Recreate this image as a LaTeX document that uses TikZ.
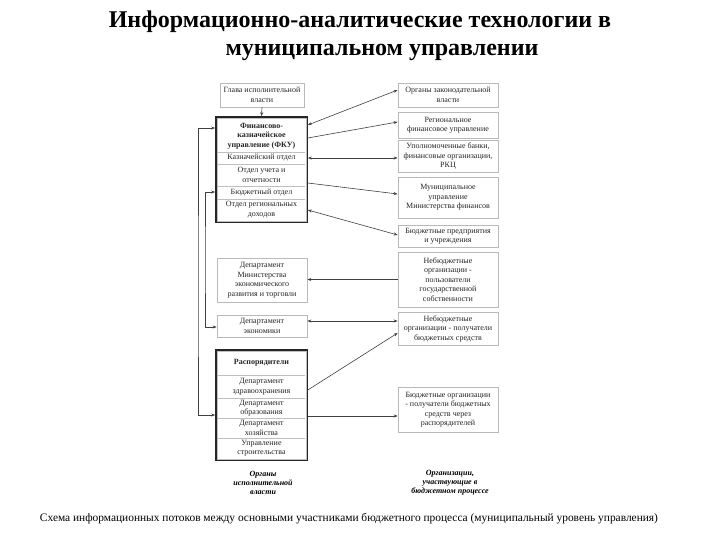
\documentclass[tikz,border=0pt]{standalone}
\usepackage{fontspec}
\setmainfont{Liberation Serif}[BoldFont={Liberation Serif Bold},ItalicFont={Liberation Serif Italic},BoldItalicFont={Liberation Serif Bold Italic}]
\usetikzlibrary{arrows.meta}
\begin{document}
\begin{tikzpicture}[x=1pt,y=-1pt,
  box/.style={draw=gray!55, line width=0.7pt, align=center, font=\fontsize{8}{9.5}\selectfont, inner sep=1pt, text=black!85},
  big/.style={draw=black!85, line width=1.6pt, inner sep=0pt},
  sub/.style={align=center, font=\fontsize{8}{9.5}\selectfont, inner sep=0pt, minimum width=91pt, text=black!85},
  sep/.style={draw=gray!50, line width=0.5pt},
  con/.style={draw=black!75, line width=0.6pt},
  tipr/.style={-{Stealth[length=4pt,width=3pt]}},
  tipb/.style={{Stealth[length=4pt,width=3pt]}-{Stealth[length=4pt,width=3pt]}},
  colcap/.style={align=center, font=\fontsize{8}{9}\selectfont\bfseries\itshape},
  ttl/.style={font=\fontsize{24}{28}\selectfont\bfseries},
]
\useasboundingbox (0,0) rectangle (720,540);
\fill[white] (0,0) rectangle (720,540);

% titles
\node[ttl] (t1) at (360,22) {Информационно-аналитические технологии в};
\node[ttl] (t2) at (382,52) {муниципальном управлении};

% left column
\node[box, minimum width=84pt, minimum height=24pt] (glava) at (262,95) {Глава исполнительной\\власти};

\node[big, minimum width=91pt, minimum height=105pt] (fku) at (261.5,169.5) {};
\draw[gray!50, line width=0.5pt] ([shift={(2pt,-2pt)}]fku.north west) rectangle ([shift={(-2pt,2pt)}]fku.south east);
\node[sub, minimum height=32pt, font=\fontsize{8}{9.5}\selectfont\bfseries] (fkuhead) at (261.5,136) {Финансово-\\казначейское\\управление (ФКУ)};
\node[sub, minimum height=12pt] (fkukazn) at (261.5,158) {Казначейский отдел};
\node[sub, minimum height=22pt] (fkuotch) at (261.5,175) {Отдел учета и\\отчетности};
\node[sub, minimum height=13pt] (fkubudg) at (261.5,192.5) {Бюджетный отдел};
\node[sub, minimum height=21pt] (fkudoh) at (261.5,209.5) {Отдел региональных\\доходов};
\foreach \n in {fkukazn,fkuotch,fkubudg,fkudoh}
  \draw[sep] ([xshift=2pt]\n.north west) -- ([xshift=-2pt]\n.north east);

\node[box, minimum width=90pt, minimum height=44pt] (depmer) at (262,280) {Департамент\\Министерства\\экономического\\развития и торговли};
\node[box, minimum width=90pt, minimum height=22pt] (depecon) at (262,326) {Департамент\\экономики};

\node[big, minimum width=91pt, minimum height=110pt] (rasp) at (261.5,405) {};
\draw[gray!50, line width=0.5pt] ([shift={(2pt,-2pt)}]rasp.north west) rectangle ([shift={(-2pt,2pt)}]rasp.south east);
\node[sub, minimum height=25pt, font=\fontsize{8}{9.5}\selectfont\bfseries] (rasphead) at (261.5,362.5) {Распорядители};
\node[sub, minimum height=23pt] (raspzdr) at (261.5,386.5) {Департамент\\здравоохранения};
\node[sub, minimum height=20pt] (raspobr) at (261.5,408) {Департамент\\образования};
\node[sub, minimum height=20pt] (rasphoz) at (261.5,428) {Департамент\\хозяйства};
\node[sub, minimum height=20pt] (raspstr) at (261.5,448) {Управление\\строительства};
\foreach \n in {raspzdr,raspobr,rasphoz,raspstr}
  \draw[sep] ([xshift=2pt]\n.north west) -- ([xshift=-2pt]\n.north east);

\node[colcap] (capl) at (263,483) {Органы\\исполнительной\\власти};

% right column
\node[box, minimum width=100pt, minimum height=24pt] (r1) at (448,95) {Органы законодательной\\власти};
\node[box, minimum width=100pt, minimum height=26pt] (r2) at (448,125) {Региональное\\финансовое управление};
\node[box, minimum width=100pt, minimum height=32pt] (r3) at (448,156) {Уполномоченные банки,\\финансовые организации,\\РКЦ};
\node[box, minimum width=100pt, minimum height=41pt] (r4) at (448,197.5) {Муниципальное\\управление\\Министерства финансов};
\node[box, minimum width=100pt, minimum height=22pt] (r5) at (448,236) {Бюджетные предприятия\\и учреждения};
\node[box, minimum width=100pt, minimum height=55pt] (r6) at (448,279.5) {Небюджетные\\организации -\\пользователи\\государственной\\собственности};
\node[box, minimum width=100pt, minimum height=33pt] (r7) at (448,328.5) {Небюджетные\\организации - получатели\\бюджетных средств};
\node[box, minimum width=100pt, minimum height=45pt] (r8) at (448,409.5) {Бюджетные организации\\- получатели бюджетных\\средств через\\распорядителей};

\node[colcap] (capr) at (450,483) {Организации,\\участвующие в\\бюджетном процессе};

% bottom caption
\node[font=\fontsize{11.4}{13}\selectfont] (cap) at (349,519) {Схема информационных потоков между основными участниками бюджетного процесса (муниципальный уровень управления)};

% connectors
\draw[con,tipr] (glava.south) -- (fku.north);
\draw[con,tipb] ([yshift=44.5pt]fku.east) -- ([yshift=5pt]r1.west);
\draw[con,tipr] ([yshift=31.5pt]fku.east) -- ([yshift=3pt]r2.west);
\draw[con,tipb] ([yshift=11.5pt]fku.east) -- ([yshift=-2pt]r3.west);
\draw[con,tipr] ([yshift=-13.5pt]fku.east) -- ([yshift=3.5pt]r4.west);
\draw[con,tipb] ([yshift=-40.5pt]fku.east) -- ([yshift=1pt]r5.west);
\draw[con,tipr] (r6.west) -- (r6.west -| depmer.east);
\draw[con,tipb] ([yshift=5pt]depecon.east) -- ([yshift=5pt]depecon.east -| r7.west);
\draw[con,tipr] ([yshift=15pt]rasp.east) -- ([yshift=-4.5pt]r7.west);
\draw[con,tipr] ([yshift=-11pt]rasp.east) -- ([yshift=-11pt]rasp.east -| r8.west);

\coordinate (lb1) at (198,300);
\coordinate (lb2) at (205,260);
\draw[con,tipb] ([yshift=41.5pt]fku.west) -| (lb1) |- ([yshift=-10pt]rasp.west);
\draw[con,tipb] ([yshift=-22.5pt]fku.west) -| (lb2) |- ([yshift=-1pt]depecon.west);
\end{tikzpicture}
\end{document}
